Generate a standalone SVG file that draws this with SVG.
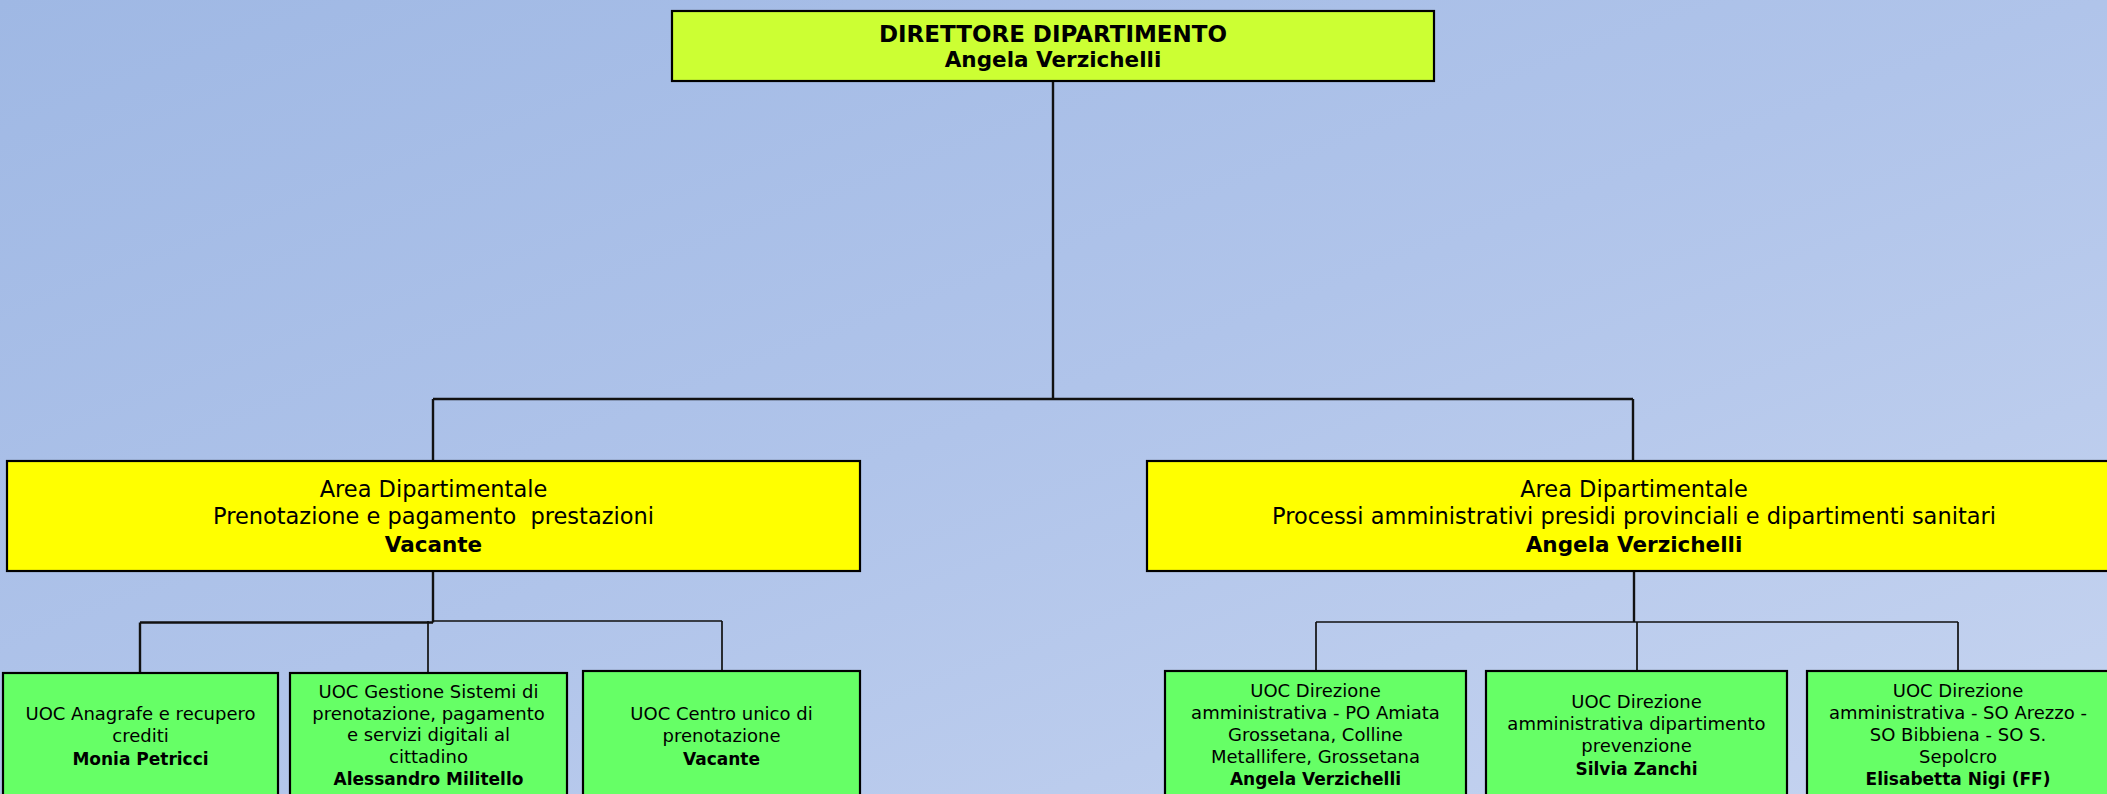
<svg xmlns="http://www.w3.org/2000/svg" width="2107" height="794" viewBox="0 0 2107 794">
<defs>
<linearGradient id="bg" x1="0" y1="0" x2="1" y2="1">
<stop offset="0" stop-color="#9fb8e4"/>
<stop offset="0.5" stop-color="#b0c4ea"/>
<stop offset="1" stop-color="#c6d4f0"/>
</linearGradient>
<style>
.box{stroke:#000;stroke-width:2.2}
.dir{fill:#ccff33}
.area{fill:#ffff00}
.uoc{fill:#66ff66}
.conn{fill:none;stroke:#111;stroke-width:2.4}
.thin{fill:none;stroke:#111;stroke-width:1.7}
text{font-family:"DejaVu Sans","Verdana",sans-serif;fill:#000;text-anchor:middle}
.t1{font-size:22.5px}
.b1{font-size:21.5px;font-weight:bold}
.t2{font-size:18px}
.b2{font-size:17px;font-weight:bold}
</style>
</defs>
<rect x="0" y="0" width="2107" height="794" fill="url(#bg)"/>
<g id="connectors">
<path class="conn" d="M1053 81V399M433 399H1633M433 399V461M1633 399V461"/>
<path class="conn" d="M433 571V622.5M140 622.5H433M140 622.5V673"/>
<path class="thin" d="M433 621H722M428 621V673M722 621V671"/>
<path class="conn" d="M1634 571V622"/>
<path class="thin" d="M1316 622H1958M1316 622V671M1637 622V671M1958 622V671"/>
</g>
<g id="director">
<rect class="box dir" x="672" y="11" width="762" height="70"/>
<text x="1053" y="42" style="font-size:23px;font-weight:bold">DIRETTORE DIPARTIMENTO</text>
<text x="1053" y="67" class="b1">Angela Verzichelli</text>
</g>
<g id="area-prenotazione">
<rect class="box area" x="7" y="461" width="853" height="110"/>
<text x="433.5" y="497" class="t1">Area Dipartimentale</text>
<text x="433.5" y="524" class="t1">Prenotazione e pagamento&#160; prestazioni</text>
<text x="433.5" y="552" class="b1">Vacante</text>
</g>
<g id="area-processi">
<rect class="box area" x="1147" y="461" width="974" height="110"/>
<text x="1634" y="497" class="t1">Area Dipartimentale</text>
<text x="1634" y="524" class="t1">Processi amministrativi presidi provinciali e dipartimenti sanitari</text>
<text x="1634" y="552" class="b1">Angela Verzichelli</text>
</g>
<g id="uoc-anagrafe">
<rect class="box uoc" x="3" y="673" width="275" height="140"/>
<text x="140.5" y="720" class="t2">UOC Anagrafe e recupero</text>
<text x="140.5" y="742" class="t2">crediti</text>
<text x="140.5" y="765" class="b2">Monia Petricci</text>
</g>
<g id="uoc-gestione">
<rect class="box uoc" x="290" y="673" width="277" height="140"/>
<text x="428.5" y="698" class="t2">UOC Gestione Sistemi di</text>
<text x="428.5" y="720" class="t2">prenotazione, pagamento</text>
<text x="428.5" y="741" class="t2">e servizi digitali al</text>
<text x="428.5" y="763" class="t2">cittadino</text>
<text x="428.5" y="785" class="b2">Alessandro Militello</text>
</g>
<g id="uoc-cup">
<rect class="box uoc" x="583" y="671" width="277" height="140"/>
<text x="721.5" y="720" class="t2">UOC Centro unico di</text>
<text x="721.5" y="742" class="t2">prenotazione</text>
<text x="721.5" y="765" class="b2">Vacante</text>
</g>
<g id="uoc-grosseto">
<rect class="box uoc" x="1165" y="671" width="301" height="140"/>
<text x="1315.5" y="697" class="t2">UOC Direzione</text>
<text x="1315.5" y="719" class="t2">amministrativa - PO Amiata</text>
<text x="1315.5" y="741" class="t2">Grossetana, Colline</text>
<text x="1315.5" y="763" class="t2">Metallifere, Grossetana</text>
<text x="1315.5" y="785" class="b2">Angela Verzichelli</text>
</g>
<g id="uoc-prevenzione">
<rect class="box uoc" x="1486" y="671" width="301" height="140"/>
<text x="1636.5" y="708" class="t2">UOC Direzione</text>
<text x="1636.5" y="730" class="t2">amministrativa dipartimento</text>
<text x="1636.5" y="752" class="t2">prevenzione</text>
<text x="1636.5" y="775" class="b2">Silvia Zanchi</text>
</g>
<g id="uoc-arezzo">
<rect class="box uoc" x="1807" y="671" width="302" height="140"/>
<text x="1958" y="697" class="t2">UOC Direzione</text>
<text x="1958" y="719" class="t2">amministrativa - SO Arezzo -</text>
<text x="1958" y="741" class="t2">SO Bibbiena - SO S.</text>
<text x="1958" y="763" class="t2">Sepolcro</text>
<text x="1958" y="785" class="b2">Elisabetta Nigi (FF)</text>
</g>
</svg>
